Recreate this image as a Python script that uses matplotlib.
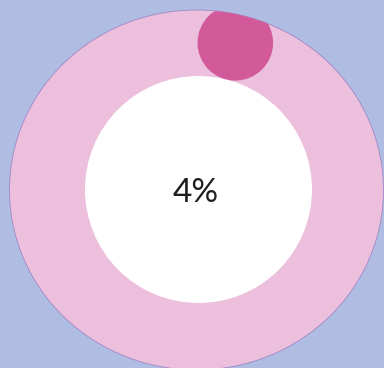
import numpy as np
import matplotlib
matplotlib.use("Agg")
import matplotlib.pyplot as plt
from matplotlib.patches import Ellipse, Circle

# Progress value shown in the gauge
progress_pct = 4
label = f"{progress_pct}%"

# Colours
bg_color = "#b0bde3"
track_color = "#ecc0dc"
marker_color = "#d35a9a"
hole_color = "#ffffff"
edge_color = "#9f86c8"
text_color = "#1e1e1e"

W, H = 384, 368
fig = plt.figure(figsize=(W / 100, H / 100), dpi=100, facecolor=bg_color)
ax = fig.add_axes([0, 0, 1, 1])
ax.set_xlim(0, W)
ax.set_ylim(H, 0)
ax.set_facecolor(bg_color)
ax.axis("off")

# Ring track (outer disc) and the hole in the middle
outer = Ellipse((196.5, 190), 2 * 187, 2 * 180, facecolor=track_color,
                edgecolor=edge_color, linewidth=0.6, zorder=1)
ax.add_patch(outer)
hole = Circle((198.5, 189.5), 113.5, facecolor=hole_color, edgecolor="none", zorder=2)
ax.add_patch(hole)

# Progress marker placed clockwise from 12 o'clock by the percentage
cx, cy, track_r = 197.5, 190, 152
theta = np.deg2rad(progress_pct / 100 * 360)
mx = cx + track_r * np.sin(theta)
my = cy - track_r * np.cos(theta)
marker = Circle((mx, my), 37.8, facecolor=marker_color, edgecolor="none", zorder=3)
ax.add_patch(marker)
marker.set_clip_path(outer)

ax.text(196, 193, label, ha="center", va="center", fontsize=24,
        family="Lato", color=text_color, zorder=4)

fig.savefig("out.png", dpi=100, facecolor=bg_color)
